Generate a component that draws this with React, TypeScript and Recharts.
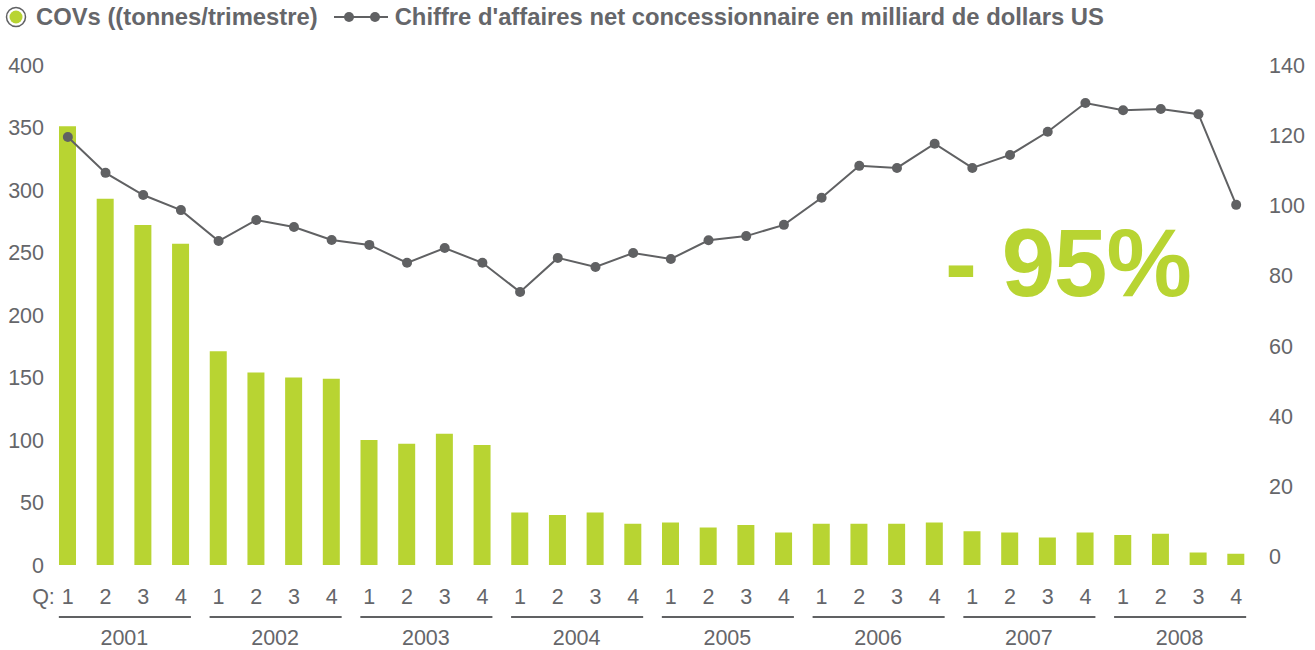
import { Bar, ComposedChart, Line, XAxis, YAxis } from 'recharts';

const years = ['2001', '2002', '2003', '2004', '2005', '2006', '2007', '2008'];
const quarters = ['1', '2', '3', '4'];

// COVs, tonnes per quarter
const covs = [
  351, 293, 272, 257,
  171, 154, 150, 149,
  100, 97, 105, 96,
  42, 40, 42, 33,
  34, 30, 32, 26,
  33, 33, 33, 34,
  27, 26, 22, 26,
  24, 25, 10, 9,
];

// net dealer revenue, billion USD
const revenue = [
  119.5, 109.3, 103, 98.7,
  89.9, 95.9, 93.9, 90.2,
  88.8, 83.7, 87.9, 83.7,
  75.4, 85.1, 82.5, 86.5,
  84.8, 90.1, 91.3, 94.5,
  102.2, 111.3, 110.7, 117.6,
  110.7, 114.4, 121, 129.2,
  127.1, 127.5, 126, 100.2,
];

const leftTicks = [0, 50, 100, 150, 200, 250, 300, 350, 400];
const rightTicks = [0, 20, 40, 60, 80, 100, 120, 140];

const data = covs.map((c, i) => ({
  key: `${years[Math.floor(i / 4)]}-Q${quarters[i % 4]}`,
  quarter: quarters[i % 4],
  year: years[Math.floor(i / 4)],
  covs: c,
  revenue: revenue[i],
}));

const GREEN = '#b8d432';
const GREY = '#606163';
const TEXT = '#65666a';
const FONT = '"Liberation Sans", Arial, Helvetica, sans-serif';
const BAND = 1206 / 32;

const QuarterTick = (props: any) => {
  const { x, y, index } = props;
  const d = data[index];
  const first = index % 4 === 0;
  return (
    <g fontFamily={FONT} fontSize={21.5} fill={TEXT}>
      {index === 0 && (
        <text x={x - 13} y={y + 31} textAnchor="end" fill={TEXT}>
          Q:
        </text>
      )}
      <text x={x} y={y + 31} textAnchor="middle" fill={TEXT}>
        {d.quarter}
      </text>
      {first && (
        <>
          <line x1={x - 9} x2={x + 3 * BAND + 10} y1={y + 44} y2={y + 44} stroke={GREY} strokeWidth={2} />
          <text x={x + 1.5 * BAND} y={y + 72} textAnchor="middle" fill={TEXT}>
            {d.year}
          </text>
        </>
      )}
    </g>
  );
};

const LeftTick = (props: any) => {
  const { y, payload } = props;
  return (
    <text x={44} y={y + 7.5} textAnchor="end" fontFamily={FONT} fontSize={21.5} fill={TEXT}>
      {payload.value}
    </text>
  );
};

const RightTick = (props: any) => {
  const { x, y, payload } = props;
  return (
    <text x={x + 6} y={y + 7.5} textAnchor="start" fontFamily={FONT} fontSize={21.5} fill={TEXT}>
      {payload.value}
    </text>
  );
};

export default function App() {
  return (
    <div style={{ position: 'absolute', left: 0, top: 0, width: 1315, height: 650, fontFamily: FONT }}>
      <div
        style={{
          position: 'absolute',
          left: 5,
          top: 3,
          display: 'flex',
          alignItems: 'center',
          fontSize: 23.8,
          fontWeight: 'bold',
          color: TEXT,
          whiteSpace: 'nowrap',
          lineHeight: '28px',
        }}
      >
        <svg width={22} height={22} style={{ marginRight: 9 }}>
          <circle cx={11} cy={11} r={9.5} fill="#fff" stroke={GREY} strokeWidth={1.5} />
          <circle cx={11} cy={11} r={6.5} fill={GREEN} />
        </svg>
        <span>COVs ((tonnes/trimestre)</span>
        <svg width={54} height={20} style={{ marginLeft: 16, marginRight: 7 }}>
          <line x1={0} x2={54} y1={10} y2={10} stroke={GREY} strokeWidth={2} />
          <circle cx={15} cy={10} r={5} fill={GREY} />
          <circle cx={41} cy={10} r={5} fill={GREY} />
        </svg>
        <span>Chiffre d'affaires net concessionnaire en milliard de dollars US</span>
      </div>

      <ComposedChart
        width={1315}
        height={650}
        data={data}
        margin={{ top: 65, right: 0, bottom: 0, left: 0 }}
        barCategoryGap={0}
      >
        <XAxis
          dataKey="key"
          axisLine={false}
          tickLine={false}
          interval={0}
          height={85}
          tick={<QuarterTick />}
        />
        <YAxis
          yAxisId="left"
          domain={[0, 400]}
          ticks={leftTicks}
          axisLine={false}
          tickLine={false}
          width={49}
          tick={<LeftTick />}
        />
        <YAxis
          yAxisId="right"
          orientation="right"
          domain={[-2.3, 140]}
          ticks={rightTicks}
          axisLine={false}
          tickLine={false}
          width={60}
          tick={<RightTick />}
        />
        <Bar yAxisId="left" dataKey="covs" fill={GREEN} barSize={17} isAnimationActive={false} />
        <Line
          yAxisId="right"
          dataKey="revenue"
          type="linear"
          stroke={GREY}
          strokeWidth={2}
          dot={{ r: 5, fill: GREY, stroke: GREY, strokeWidth: 0 }}
          activeDot={false}
          isAnimationActive={false}
        />
      </ComposedChart>

      <div
        style={{
          position: 'absolute',
          left: 945,
          top: 208,
          fontSize: 96,
          fontWeight: 'bold',
          color: GREEN,
          lineHeight: '110px',
          whiteSpace: 'nowrap',
          letterSpacing: -1,
        }}
      >
        - 95%
      </div>
    </div>
  );
}
